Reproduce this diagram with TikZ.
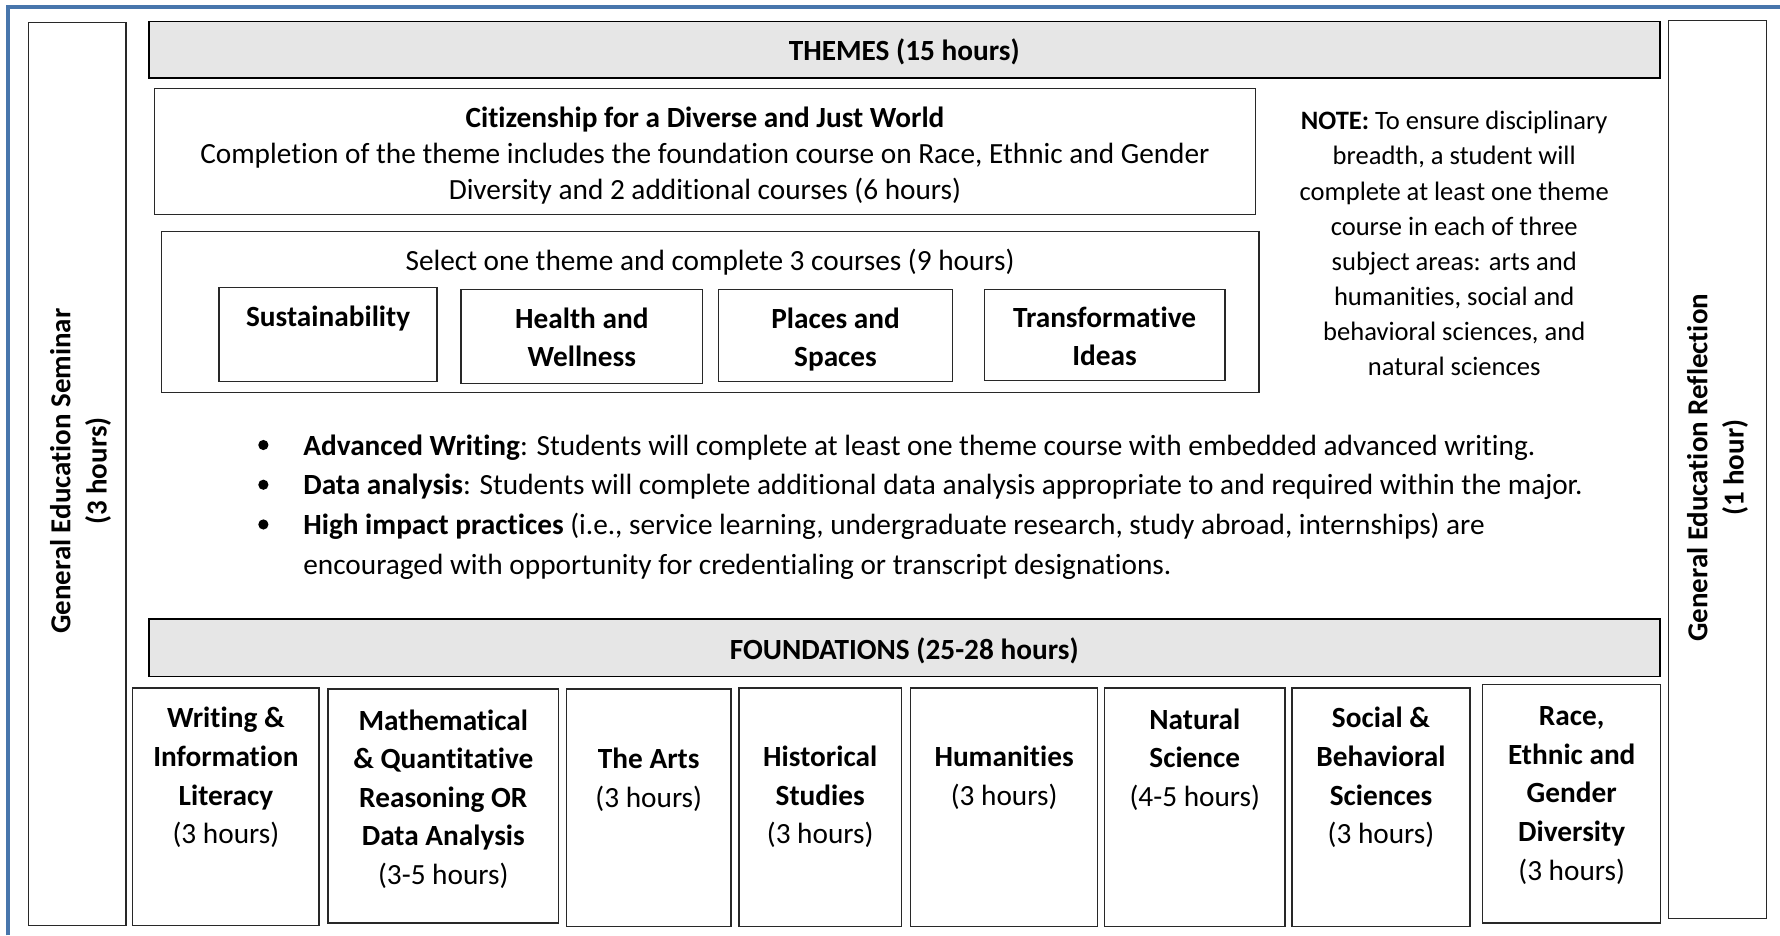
\documentclass[tikz,border=0pt]{standalone}
\usepackage{fontspec}
\setmainfont[Ligatures=NoCommon]{Carlito}
\definecolor{frameblue}{RGB}{72,118,172}
\definecolor{bargray}{RGB}{230,230,230}
\definecolor{boxline}{RGB}{40,40,40}
\newcommand\fa{\fontsize{25.8}{31.5}\selectfont}
\newcommand\fb{\fontsize{25.8}{34}\selectfont}
\newcommand\fnote{\fontsize{23.4}{31}\selectfont}
\newcommand\fbul{\fontsize{25.8}{35}\selectfont}
\newcommand\fvert{\fontsize{25.5}{32}\selectfont}
\newcommand\fl{\rule{0pt}{20pt}}
\begin{document}
\begin{tikzpicture}[x=1pt,y=-1pt,
  box/.style={draw=boxline, line width=1.1pt, inner sep=0pt, outer sep=0pt, anchor=north west},
  bar/.style={draw=black, line width=1.6pt, fill=bargray, inner sep=0pt, outer sep=0pt, anchor=north west},
  boxtext/.style={anchor=north, inner sep=0pt, align=center, font=\fb},
  frameline/.style={draw=frameblue, line width=3.6pt},
  dot/.style={circle, fill=black, inner sep=0pt, minimum size=9pt}]
\useasboundingbox (0,0) rectangle (1568,824);
\draw[frameline] (7,824) -- (7,6) -- (1568,6);

% side boxes
\node[box, minimum width=86pt, minimum height=795pt] (lbox) at (25,20) {};
\node[box, minimum width=86pt, minimum height=791pt] (rbox) at (1470,18) {};
\node[rotate=90, align=center, inner sep=0pt, font=\fvert\bfseries] (ltext) at (71,415) {General Education Seminar\\(3 hours)};
\node[rotate=90, align=center, inner sep=0pt, font=\fvert\bfseries] (rtext) at (1513,412) {General Education Reflection\\(1 hour)};

% themes
\node[bar, minimum width=1331pt, minimum height=50pt] (themes) at (131,19) {};
\node[anchor=base, inner sep=0pt, font=\fa\bfseries] (themestext) at (796.5,53) {THEMES (15 hours)};
\node[box, minimum width=970pt, minimum height=111pt] (citizen) at (136,78) {};
\node[inner sep=0pt, align=center, font=\fa] (citizentext) at (621,137)
  {\textbf{Citizenship for a Diverse and Just World}\\Completion of the theme includes the foundation course on Race, Ethnic and Gender\\Diversity and 2 additional courses (6 hours)};
\node[box, minimum width=967pt, minimum height=142pt] (select) at (142,204) {};
\node[anchor=base, inner sep=0pt, font=\fa] (selecttext) at (625.5,238) {Select one theme and complete 3 courses (9 hours)};

\node[box, minimum width=192pt, minimum height=83pt] (sust) at (193,253) {};
\node[box, minimum width=213pt, minimum height=83pt] (health) at (406,255) {};
\node[box, minimum width=206pt, minimum height=81pt] (places) at (633,255) {};
\node[box, minimum width=212pt, minimum height=80pt] (trans) at (867,255) {};
\node[boxtext, font=\fb\bfseries] (susttext) at (289,267) {\fl Sustainability};
\node[boxtext, font=\fb\bfseries] (healthtext) at (512.5,269) {\fl Health and\\Wellness};
\node[boxtext, font=\fb\bfseries] (placestext) at (736,269) {\fl Places and\\Spaces};
\node[boxtext, font=\fb\bfseries] (transtext) at (973,268) {\fl Transformative\\Ideas};

% note
\node[anchor=north, inner sep=0pt, align=center, font=\fnote] (note) at (1281,94)
  {\fl\textbf{NOTE:} To ensure disciplinary\\breadth, a student will\\complete at least one theme\\course in each of three\\subject areas: arts and\\humanities, social and\\behavioral sciences, and\\natural sciences};

% bullets
\node[dot] (b1) at (232,392) {};
\node[dot] (b2) at (232,427) {};
\node[dot] (b3) at (232,462) {};
\node[anchor=north west, inner sep=0pt, align=left, font=\fbul] (t1) at (267,381)
  {\fl\textbf{Advanced Writing}: Students will complete at least one theme course with embedded advanced writing.};
\node[anchor=north west, inner sep=0pt, align=left, font=\fbul] (t2) at (267,415)
  {\fl\textbf{Data analysis}: Students will complete additional data analysis appropriate to and required within the major.};
\node[anchor=north west, inner sep=0pt, align=left, font=\fbul] (t3) at (267,451)
  {\fl\textbf{High impact practices} (i.e., service learning, undergraduate research, study abroad, internships) are\\encouraged with opportunity for credentialing or transcript designations.};

% foundations
\node[bar, minimum width=1331pt, minimum height=51pt] (found) at (131,545) {};
\node[anchor=base, inner sep=0pt, font=\fa\bfseries] (foundtext) at (796.5,581) {FOUNDATIONS (25-28 hours)};
\node[box, minimum width=164pt, minimum height=209pt] (writing) at (117,606) {};
\node[box, minimum width=203pt, minimum height=206pt] (math) at (289,607) {};
\node[box, minimum width=145pt, minimum height=209pt] (arts) at (499,607) {};
\node[box, minimum width=143pt, minimum height=210pt] (hist) at (651,606) {};
\node[box, minimum width=165pt, minimum height=210pt] (hum) at (802,606) {};
\node[box, minimum width=159pt, minimum height=210pt] (nat) at (973,606) {};
\node[box, minimum width=157pt, minimum height=210pt] (social) at (1138,606) {};
\node[box, minimum width=157pt, minimum height=210pt] (race) at (1306,603) {};

\node[boxtext] (writingtext) at (199,621) {\fl\textbf{Writing \&}\\\textbf{Information}\\\textbf{Literacy}\\(3 hours)};
\node[boxtext] (mathtext) at (390.5,623) {\fl\textbf{Mathematical}\\\textbf{\& Quantitative}\\\textbf{Reasoning OR}\\\textbf{Data Analysis}\\(3-5 hours)};
\node[boxtext] (artstext) at (571.5,657) {\fl\textbf{The Arts}\\(3 hours)};
\node[boxtext] (histtext) at (722.5,655) {\fl\textbf{Historical}\\\textbf{Studies}\\(3 hours)};
\node[boxtext] (humtext) at (884.5,655) {\fl\textbf{Humanities}\\(3 hours)};
\node[boxtext] (nattext) at (1052.5,622) {\fl\textbf{Natural}\\\textbf{Science}\\(4-5 hours)};
\node[boxtext] (socialtext) at (1216.5,621) {\fl\textbf{Social \&}\\\textbf{Behavioral}\\\textbf{Sciences}\\(3 hours)};
\node[boxtext] (racetext) at (1384.5,619) {\fl\textbf{Race,}\\\textbf{Ethnic and}\\\textbf{Gender}\\\textbf{Diversity}\\(3 hours)};
\end{tikzpicture}
\end{document}
